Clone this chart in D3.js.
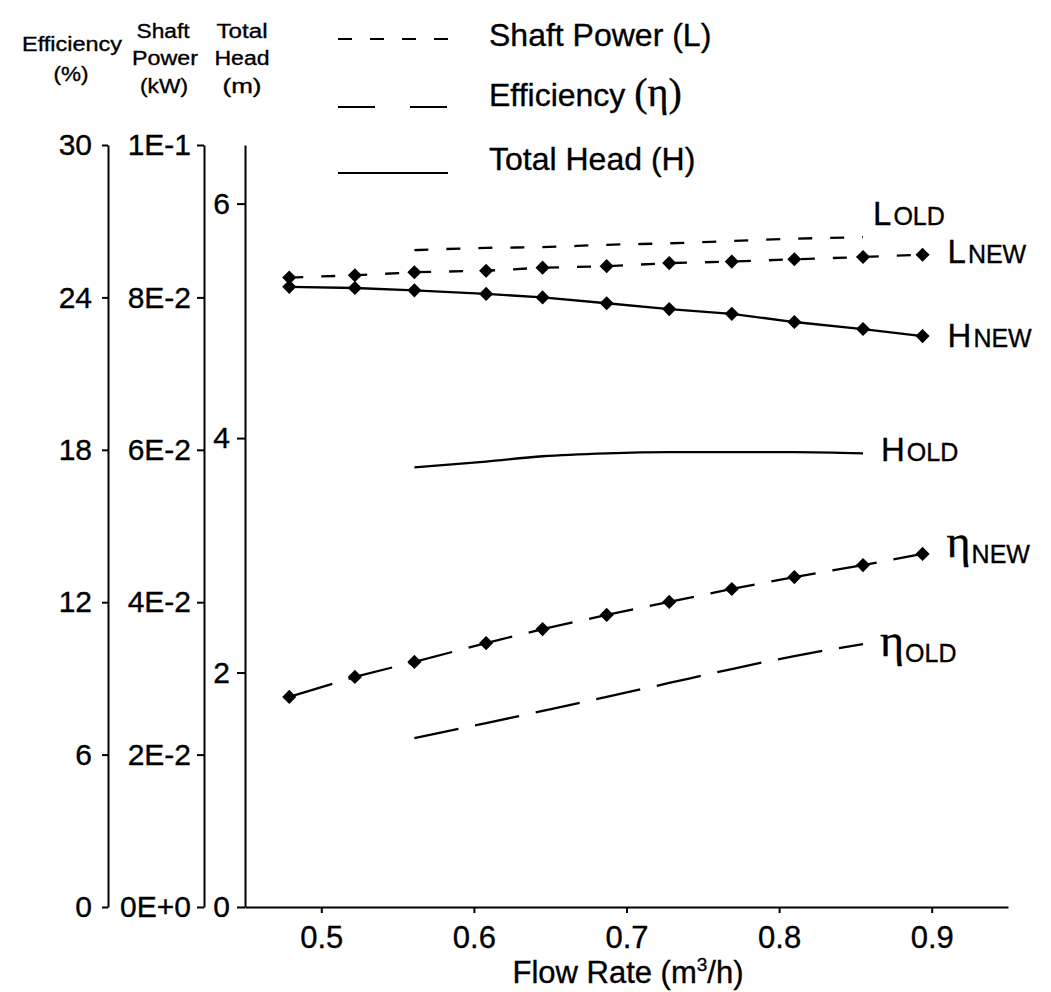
<!DOCTYPE html>
<html>
<head>
<meta charset="utf-8">
<script src="https://cdn.jsdelivr.net/npm/d3@7"></script>
<style>
  html, body { margin: 0; padding: 0; background: #fff; }
  svg { display: block; }
  text { font-family: "Liberation Sans", Arial, sans-serif; fill: #000; stroke: #000; stroke-width: 0.35px; }
</style>
</head>
<body>
<div id="chart"></div>
<script>
// ---------------- DATA ----------------
const flowNew  = [0.479, 0.522, 0.561, 0.608, 0.645, 0.687, 0.728, 0.769, 0.810, 0.855, 0.894];
const headNew  = [5.29, 5.28, 5.26, 5.23, 5.20, 5.15, 5.10, 5.06, 4.99, 4.93, 4.87];
const powerNew = [0.0826, 0.0829, 0.0833, 0.0835, 0.0839, 0.0841, 0.0845, 0.0847, 0.0850, 0.0853, 0.0856];
const effNew   = [8.27, 9.06, 9.65, 10.39, 10.94, 11.50, 12.01, 12.52, 12.99, 13.46, 13.90];

const flowOld  = [0.561, 0.608, 0.645, 0.687, 0.728, 0.769, 0.810, 0.855];
const headOld  = [3.75, 3.80, 3.845, 3.87, 3.88, 3.88, 3.88, 3.87];
const powerOld = [0.0862, 0.0865, 0.0866, 0.0869, 0.0871, 0.0874, 0.0877, 0.0879];
const effOld   = [6.65, 7.24, 7.72, 8.27, 8.82, 9.37, 9.88, 10.35];

const flowTicks  = [0.5, 0.6, 0.7, 0.8, 0.9];
const effTicks   = [0, 6, 12, 18, 24, 30];
const powerTicks = [0, 0.02, 0.04, 0.06, 0.08, 0.1];
const headTicks  = [0, 2, 4, 6];

const legendLabels = ["Shaft Power (L)", "Efficiency ", "Total Head (H)"];
const xTitle = "Flow Rate (m";

// ---------------- SETUP ----------------
const W = 1051, H = 992;
const svg = d3.select("#chart").append("svg").attr("width", W).attr("height", H);

const x     = d3.scaleLinear().domain([0.45, 0.95]).range([245, 1008]);
const yEff  = d3.scaleLinear().domain([0, 30]).range([907, 145]);
const yPow  = d3.scaleLinear().domain([0, 0.1]).range([907, 145]);
const yHead = d3.scaleLinear().domain([0, 6.5]).range([907, 145]);

function powFmt(v) {
  if (v === 0) return "0E+0";
  const e = Math.floor(Math.log10(v) + 1e-9);
  const m = Math.round(v / Math.pow(10, e));
  return m + "E" + (e >= 0 ? "+" : "-") + Math.abs(e);
}

function styleAxis(g, fs) {
  g.selectAll("path.domain").attr("stroke", "#000").attr("stroke-width", 2);
  g.selectAll(".tick line").attr("stroke", "#000").attr("stroke-width", 2);
  g.selectAll(".tick text").attr("font-size", fs).attr("font-family", "Liberation Sans, Arial, sans-serif")
    .attr("fill", "#000").attr("stroke", "#000").attr("stroke-width", 0.35);
}

// Axes
const gEff = svg.append("g").attr("transform", "translate(108,0)")
  .call(d3.axisLeft(yEff).tickValues(effTicks).tickSize(6).tickSizeOuter(0).tickPadding(10));
styleAxis(gEff, 30);

const gPow = svg.append("g").attr("transform", "translate(204,0)")
  .call(d3.axisLeft(yPow).tickValues(powerTicks).tickSize(7).tickSizeOuter(0).tickPadding(6).tickFormat(powFmt));
styleAxis(gPow, 30);

const gHead = svg.append("g").attr("transform", "translate(245,0)")
  .call(d3.axisLeft(yHead).tickValues(headTicks).tickSize(8).tickSizeOuter(0).tickPadding(7).tickFormat(d3.format("d")));
styleAxis(gHead, 30);

const gX = svg.append("g").attr("transform", "translate(0,907)")
  .call(d3.axisBottom(x).tickValues(flowTicks).tickSize(6).tickSizeOuter(0).tickPadding(13).tickFormat(d3.format(".1f")));
styleAxis(gX, 31);

// Axis headers
const headers = [
  ["Efficiency", 72, 51, 100], ["(%)", 71, 81, 35],
  ["Shaft", 163, 38, 53], ["Power", 165, 65, 66], ["(kW)", 164, 93, 48],
  ["Total", 242, 38, 51], ["Head", 242, 65, 55], ["(m)", 242, 93, 39]
];
headers.forEach(([t, cx, by, len]) => {
  svg.append("text").attr("x", cx - len / 2).attr("y", by)
    .attr("font-size", 20).attr("textLength", len).attr("lengthAdjust", "spacingAndGlyphs")
    .text(t);
});

// X title
const xt = svg.append("text").attr("x", 628).attr("y", 983).attr("text-anchor", "middle").attr("font-size", 31);
xt.append("tspan").text(xTitle);
xt.append("tspan").attr("font-size", 19).attr("dy", -12).text("3");
xt.append("tspan").attr("dy", 12).text("/h)");

// ---------------- SERIES ----------------
const dashL = "14,18", dashEff = "45,17";
function zip(qs, vs) { return qs.map((q, i) => ({ q, v: vs[i] })); }

function drawLine(data, yScale, dash, curve) {
  svg.append("path").datum(data)
    .attr("fill", "none").attr("stroke", "#000").attr("stroke-width", 2.3)
    .attr("stroke-dasharray", dash || null)
    .attr("d", d3.line().x(d => x(d.q)).y(d => yScale(d.v)).curve(curve || d3.curveLinear));
}
function drawMarkers(data, yScale) {
  svg.append("g").selectAll("path").data(data).join("path")
    .attr("d", d3.symbol().type(d3.symbolSquare).size(100))
    .attr("transform", d => `translate(${x(d.q)},${yScale(d.v)}) rotate(45)`)
    .attr("fill", "#000");
}

const dLNew = zip(flowNew, powerNew), dHNew = zip(flowNew, headNew), dENew = zip(flowNew, effNew);
const dLOld = zip(flowOld, powerOld), dHOld = zip(flowOld, headOld), dEOld = zip(flowOld, effOld);

drawLine(dLOld, yPow, dashL, d3.curveMonotoneX);
drawLine(dHOld, yHead, null, d3.curveMonotoneX);
drawLine(dEOld, yEff, dashEff, d3.curveMonotoneX);

drawLine(dLNew, yPow, dashL);
drawLine(dHNew, yHead, null);
drawLine(dENew, yEff, dashEff);

drawMarkers(dHNew, yHead);
drawMarkers(dLNew, yPow);
drawMarkers(dENew, yEff);

// ---------------- CURVE LABELS ----------------
function label(px, py, main, sub, serif) {
  const t = svg.append("text").attr("x", px).attr("y", py);
  if (serif) {
    t.append("tspan").attr("font-family", "Liberation Serif, Times New Roman, serif").attr("font-size", 46).text(main);
  } else {
    t.append("tspan").attr("font-size", 33).text(main);
  }
  t.append("tspan").attr("font-size", 25).attr("dx", serif ? 1 : 2).attr("dy", serif ? 6 : 0).text(sub);
}
const lastN = flowNew.length - 1, lastO = flowOld.length - 1;
label(x(flowOld[lastO]) + 10, yPow(powerOld[lastO]) - 12, "L", "OLD");
label(x(flowNew[lastN]) + 25, yPow(powerNew[lastN]) + 8, "L", "NEW");
label(x(flowNew[lastN]) + 25, yHead(headNew[lastN]) + 11, "H", "NEW");
label(x(flowOld[lastO]) + 18, yHead(headOld[lastO]) + 8, "H", "OLD");
label(x(flowNew[lastN]) + 24, yEff(effNew[lastN]) + 3, "η", "NEW", true);
label(x(flowOld[lastO]) + 17, yEff(effOld[lastO]) + 12, "η", "OLD", true);

// ---------------- LEGEND ----------------
const legDash = [dashL, "37,35", null];
const legY = [39, 107, 173];
const legBase = [46, 106, 170];
legY.forEach((ly, i) => {
  svg.append("line").attr("x1", 338).attr("x2", 448).attr("y1", ly).attr("y2", ly)
    .attr("stroke", "#000").attr("stroke-width", 2).attr("stroke-dasharray", legDash[i]);
  const t = svg.append("text").attr("x", 489).attr("y", legBase[i]).attr("font-size", 32);
  t.append("tspan").text(legendLabels[i]);
  if (i === 1) {
    t.append("tspan").attr("font-family", "Liberation Serif, Times New Roman, serif").attr("font-size", 40).text("(η)");
  }
});
</script>
</body>
</html>
